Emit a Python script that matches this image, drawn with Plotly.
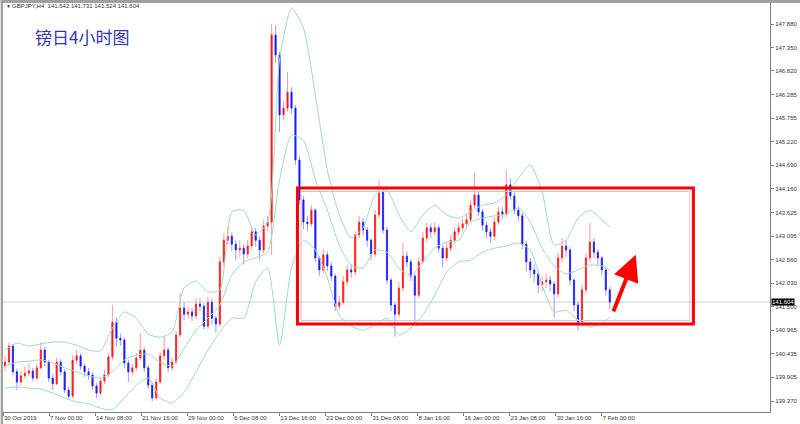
import plotly.graph_objects as go

# ---------------- data (GBPJPY H4) ----------------
first_open = 140.16
closes = [140.25, 140.61, 140.03, 139.80, 139.94, 140.00, 140.05, 139.89, 140.12, 140.52,
          140.25, 139.89, 139.76, 140.25, 140.03, 139.62, 139.48, 140.29, 140.39, 140.16,
          140.03, 139.96, 139.71, 139.55, 139.82, 139.96, 140.37, 141.15, 140.79, 140.75,
          140.23, 140.03, 140.12, 140.34, 140.52, 140.12, 139.73, 139.44, 139.80, 140.39,
          140.52, 140.12, 140.25, 140.86, 141.47, 141.33, 141.38, 141.29, 141.56, 141.51,
          141.06, 141.60, 141.24, 141.11, 142.51, 143.00, 143.09, 142.91, 142.78, 142.82,
          142.69, 142.87, 143.19, 143.00, 142.78, 143.32, 143.41, 147.63, 147.18, 145.83,
          145.98, 146.34, 145.98, 144.81, 143.91, 143.41, 143.37, 143.68, 142.60, 142.33,
          142.67, 142.42, 142.19, 141.51, 141.60, 142.06, 142.33, 142.28, 143.12, 143.41,
          143.23, 143.00, 142.69, 143.57, 144.09, 143.23, 142.10, 141.54, 141.33, 141.92,
          142.64, 142.51, 142.19, 141.76, 142.51, 143.05, 143.28, 143.19, 143.28, 142.82,
          142.60, 142.82, 143.00, 143.19, 143.28, 143.37, 143.46, 143.79, 144.02, 143.64,
          143.34, 143.19, 143.09, 143.41, 143.64, 143.59, 144.25, 144.00, 143.68, 143.55,
          142.91, 142.51, 142.33, 142.24, 141.99, 142.06, 142.10, 142.01, 141.79, 142.60,
          142.87, 142.78, 142.10, 141.54, 141.15, 141.88, 142.60, 142.96, 142.73, 142.60,
          142.33, 141.88, 141.604]
highs = [140.40, 140.70, 140.66, 140.10, 140.05, 140.15, 140.20, 140.12, 140.22, 140.70,
         140.60, 140.30, 139.98, 140.35, 140.32, 140.08, 139.70, 140.40, 140.52, 140.45,
         140.22, 140.12, 140.02, 139.78, 139.90, 140.08, 140.45, 141.54, 141.25, 140.90,
         140.80, 140.30, 140.20, 140.45, 140.90, 140.58, 140.18, 139.80, 139.88, 140.48,
         140.84, 140.58, 140.35, 140.95, 141.81, 141.60, 141.50, 141.48, 141.70, 141.68,
         141.58, 141.72, 141.68, 141.30, 142.62, 143.15, 143.30, 143.18, 143.00, 143.00,
         142.92, 143.00, 143.30, 143.28, 143.10, 143.45, 143.55, 147.88, 147.85, 147.25,
         146.15, 146.80, 146.45, 146.05, 144.90, 144.00, 143.55, 143.80, 143.72, 142.65,
         142.80, 142.75, 142.50, 142.25, 141.75, 142.20, 142.45, 142.45, 143.20, 143.55,
         143.50, 143.30, 143.05, 143.70, 144.36, 144.15, 143.30, 142.15, 141.60, 142.05,
         142.94, 142.75, 142.58, 142.25, 142.62, 143.18, 143.40, 143.38, 143.40, 143.35,
         142.90, 142.95, 143.12, 143.30, 143.40, 143.50, 143.60, 143.92, 144.52, 144.10,
         143.70, 143.42, 143.28, 143.52, 143.75, 143.75, 144.58, 144.40, 144.08, 143.78,
         143.62, 142.98, 142.60, 142.45, 142.30, 142.20, 142.25, 142.20, 142.08, 142.72,
         143.05, 143.00, 142.85, 142.15, 141.62, 142.00, 142.72, 143.39, 143.05, 142.80,
         142.65, 142.40, 141.95]
lows = [140.05, 140.20, 139.95, 139.62, 139.72, 139.88, 139.93, 139.82, 139.85, 140.08,
        140.15, 139.80, 139.62, 139.72, 139.95, 139.55, 139.42, 139.45, 140.20, 140.08,
        139.92, 139.85, 139.62, 139.44, 139.50, 139.75, 139.90, 140.30, 140.60, 140.62,
        140.12, 139.80, 139.95, 140.05, 140.28, 140.02, 139.65, 139.37, 139.40, 139.75,
        140.30, 140.02, 140.05, 140.20, 140.80, 141.20, 141.22, 141.18, 141.22, 141.40,
        140.98, 141.00, 141.10, 140.91, 141.05, 142.40, 142.90, 142.75, 142.55, 142.62,
        142.45, 142.60, 142.80, 142.85, 142.55, 142.70, 143.20, 142.67, 147.00, 145.44,
        145.70, 145.90, 145.85, 144.70, 143.80, 143.25, 143.20, 143.30, 142.50, 142.20,
        142.25, 142.30, 142.08, 141.40, 141.42, 141.55, 141.98, 142.15, 142.20, 143.05,
        143.10, 142.85, 142.55, 142.62, 143.50, 143.15, 142.00, 141.40, 140.82, 141.25,
        141.85, 142.40, 142.08, 141.13, 141.70, 142.45, 142.95, 143.05, 143.10, 142.72,
        142.39, 142.52, 142.75, 142.92, 143.10, 143.20, 143.30, 143.40, 143.72, 143.55,
        143.22, 143.05, 142.95, 143.00, 143.35, 143.48, 143.52, 143.90, 143.58, 143.42,
        142.80, 142.30, 142.15, 142.05, 141.80, 141.85, 141.92, 141.85, 141.26, 141.70,
        142.50, 142.62, 141.98, 141.40, 140.95, 141.05, 141.80, 142.50, 142.60, 142.45,
        142.20, 141.75, 141.45]

# Bollinger bands, sampled every third candle (last sample at the final candle)
band_upper = [140.52, 140.68, 140.61, 140.66, 140.70, 140.70, 140.63, 140.52, 140.50, 141.02,
              141.38, 141.24, 140.88, 140.81, 140.93, 141.92, 142.08, 141.83, 141.88, 143.64,
              143.68, 143.12, 143.41, 147.07, 148.24, 147.79, 146.28, 144.59, 143.57, 143.05,
              143.28, 144.02, 144.13, 143.57, 143.19, 143.57, 143.79, 143.57, 143.50, 143.64,
              143.79, 143.84, 144.02, 144.40, 144.70, 144.09, 142.89, 143.00, 143.50, 143.68,
              143.46, 143.30]
band_middle = [140.16, 140.25, 140.27, 140.30, 140.23, 140.12, 140.03, 139.94, 139.89, 140.03,
               140.30, 140.41, 140.43, 140.25, 140.16, 140.56, 140.97, 141.24, 141.54, 142.21,
               142.51, 142.60, 142.73, 144.36, 145.37, 145.26, 144.36, 143.68, 142.89, 142.44,
               142.37, 142.78, 142.73, 142.37, 142.21, 142.51, 142.82, 142.96, 143.00, 143.41,
               143.50, 143.55, 143.59, 143.73, 143.41, 142.82, 142.42, 142.24, 142.33, 142.44,
               142.42, 142.33]
band_lower = [139.66, 139.69, 139.66, 139.64, 139.55, 139.44, 139.35, 139.31, 139.21, 139.17,
              139.44, 139.73, 139.89, 139.44, 139.33, 139.57, 140.03, 140.52, 140.93, 141.24,
              141.24, 142.06, 142.37, 140.63, 142.37, 143.00, 142.78, 142.15, 141.31, 141.06,
              140.97, 141.09, 141.24, 140.86, 141.02, 141.31, 141.76, 142.28, 142.51, 142.55,
              142.73, 142.82, 142.87, 142.94, 142.78, 141.99, 141.38, 141.42, 141.20, 141.04,
              141.13, 141.27]

x_labels = ["30 Oct 2019", "7 Nov 00:00", "14 Nov 08:00", "21 Nov 16:00", "29 Nov 00:00",
            "6 Dec 08:00", "13 Dec 16:00", "23 Dec 00:00", "31 Dec 08:00", "8 Jan 16:00",
            "16 Jan 00:00", "23 Jan 08:00", "30 Jan 16:00", "7 Feb 00:00"]
y_ticks = [147.880, 147.350, 146.820, 146.285, 145.755, 145.220, 144.690, 144.160, 143.625,
           143.095, 142.560, 142.030, 141.500, 140.965, 140.435, 139.905, 139.370]

symbol_line = "GBPJPY,H4  141.542 141.731 141.524 141.604"
title_text = "镑日4小时图"
last_price = 141.604
box_range = dict(x0=73.5, x1=173.0, y0=141.11, y1=144.18)
arrow_tail = (152.75, 141.36)
arrow_head = (158.5, 142.67)

# ---------------- figure ----------------
opens = [first_open] + closes[:-1]
body_top = [max(o, c) for o, c in zip(opens, closes)]
body_bot = [min(o, c) for o, c in zip(opens, closes)]
idx = list(range(len(closes)))
band_idx = list(range(0, len(closes) - 2, 3)) + [len(closes) - 1]

fig = go.Figure()
band_color = "#9fdcbf"
for band in (band_upper, band_middle, band_lower):
    fig.add_trace(go.Scatter(x=band_idx, y=band, mode="lines",
                             line=dict(color=band_color, width=1, shape="spline", smoothing=0.6),
                             hoverinfo="skip", showlegend=False))

# pale wicks
fig.add_trace(go.Candlestick(
    x=idx, open=opens, high=highs, low=lows, close=closes,
    increasing=dict(line=dict(color="#ff9a9a", width=1), fillcolor="#ff9a9a"),
    decreasing=dict(line=dict(color="#9a9aff", width=1), fillcolor="#9a9aff"),
    whiskerwidth=0, showlegend=False, hoverinfo="skip"))
# saturated bodies
fig.add_trace(go.Candlestick(
    x=idx, open=opens, high=body_top, low=body_bot, close=closes,
    increasing=dict(line=dict(color="#ff1a1a", width=0.6), fillcolor="#ff1a1a"),
    decreasing=dict(line=dict(color="#1a1aff", width=0.6), fillcolor="#1a1aff"),
    whiskerwidth=0, showlegend=False, hoverinfo="skip"))

step = 32 / 2.765  # label every 32 H4 bars; each drawn candle ~2.765 bars
tickvals = [-0.5 + k * step for k in range(len(x_labels))]

fig.update_layout(
    width=800, height=424,
    margin=dict(l=2, r=27, t=3, b=12),
    paper_bgcolor="white", plot_bgcolor="white",
    boxgap=0.6,
    font=dict(family="Liberation Sans, Arial", size=6, color="#333333"),
    xaxis=dict(range=[-0.5, 192.25], showgrid=False, zeroline=False,
               rangeslider=dict(visible=False),
               tickvals=tickvals, ticktext=x_labels, ticks="outside", ticklen=3,
               tickcolor="#808080", ticklabelposition="outside right",
               showline=True, linecolor="#808080", linewidth=1, mirror=True,
               tickfont=dict(size=6, color="#333333")),
    yaxis=dict(range=[139.123, 148.354], side="right", showgrid=False, zeroline=False,
               tickvals=y_ticks, ticktext=[f"{v:.3f}" for v in y_ticks],
               ticks="outside", ticklen=3, tickcolor="#808080",
               showline=True, linecolor="#808080", linewidth=1, mirror=True,
               tickfont=dict(size=6, color="#333333")),
)

shapes = [
    dict(type="line", xref="paper", x0=0, x1=1, yref="y", y0=last_price, y1=last_price,
         line=dict(color="#d0d0d0", width=1), layer="below"),
    dict(type="rect", xref="x", yref="y", x0=box_range["x0"] + 0.9, x1=box_range["x1"] - 0.9,
         y0=box_range["y0"] + 0.08, y1=box_range["y1"] - 0.08,
         line=dict(color="#c8c8c8", width=1)),
    dict(type="rect", xref="x", yref="y", **box_range, line=dict(color="#ff0000", width=3)),
    dict(type="rect", xref="paper", yref="paper", x0=-0.003, x1=0, y0=-0.03, y1=1.01,
         fillcolor="#a0a0a0", line=dict(width=0)),
    dict(type="rect", xref="paper", yref="paper", x0=-0.003, x1=1.04, y0=1.0, y1=1.008,
         fillcolor="#a0a0a0", line=dict(width=0)),
]
fig.update_layout(shapes=shapes)

fig.add_annotation(x=arrow_head[0], y=arrow_head[1], ax=arrow_tail[0], ay=arrow_tail[1],
                   xref="x", yref="y", axref="x", ayref="y", text="", showarrow=True,
                   arrowhead=2, arrowsize=1.3, arrowwidth=4, arrowcolor="#ff0000")
fig.add_annotation(xref="paper", yref="paper", x=0.039, y=0.917, xanchor="left", yanchor="middle",
                   text=title_text, showarrow=False,
                   font=dict(family="Noto Sans CJK SC", size=17, color="#3535b0"))
fig.add_annotation(xref="paper", yref="paper", x=0.009, y=0.993, xanchor="left", yanchor="middle",
                   text=symbol_line, showarrow=False, font=dict(size=6, color="#333333"))
fig.add_annotation(xref="paper", yref="paper", x=0.0015, y=0.993, xanchor="left", yanchor="middle",
                   text="▼", showarrow=False, font=dict(size=5, color="#333333"))
fig.add_annotation(xref="paper", yref="y", x=1.0015, y=last_price, xanchor="left", yanchor="middle",
                   text=f"{last_price:.3f}", showarrow=False, bgcolor="#000000", borderpad=0,
                   font=dict(size=6, color="#ffffff"))

fig.write_html("out.html", config={"displayModeBar": False},
               post_script="document.body.style.margin='0';")
